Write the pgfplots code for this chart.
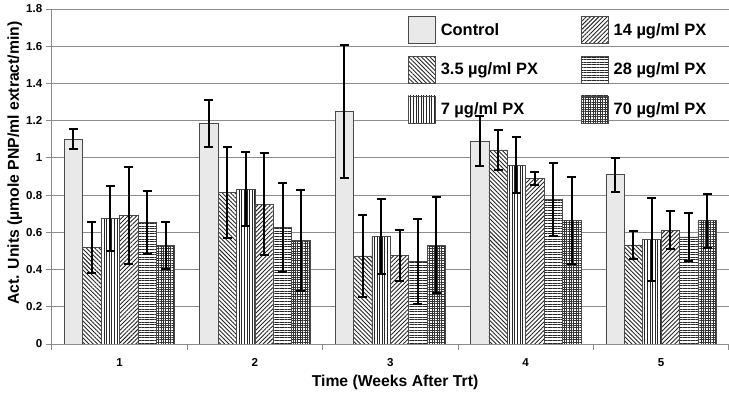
\documentclass[border=0pt]{standalone}
\usepackage{pgfplots}
\pgfplotsset{compat=1.18}
\usepackage{fontspec}
\setmainfont{Liberation Sans}
\usetikzlibrary{patterns.meta,calc,arrows.meta}
\definecolor{gridc}{HTML}{8C8C8C}
\definecolor{edgec}{HTML}{4A4A4A}
\pgfplotsset{eb/.style={error bars/.cd, y dir=both, y explicit, error mark=none,
  error bar style={line width=2bp, black, solid, -{Bar[width=9bp,line width=2bp]}}}}
\begin{document}
\begin{tikzpicture}
\begin{axis}[
  scale only axis,
  width=677bp, height=335bp,
  xmin=0.5, xmax=5.5, ymin=0, ymax=1.8,
  ybar=0pt, bar width=0.136,
  axis x line*=bottom, axis y line*=left,
  axis line style={gridc, line width=0.9bp},
  xtick={0.5,1.5,2.5,3.5,4.5,5.5},
  xticklabels={1,2,3,4,5},
  x tick label as interval,
  xticklabel style={yshift=-5bp},
  ytick={0,0.2,0.4,0.6,0.8,1,1.2,1.4,1.6,1.8},
  yticklabel style={/pgf/number format/.cd, fixed, precision=1},
  /pgf/number format/assume math mode=true,
  tick label style={font=\fontsize{11.6}{13}\selectfont\bfseries},
  tick align=outside, major tick length=6bp,
  tick style={gridc, line width=0.9bp},
  ymajorgrids, grid style={gridc, line width=0.9bp},
  xlabel={Time (Weeks After Trt)},
  ylabel={Act. Units (µmole PNP/ml extract/min)},
  label style={font=\fontsize{15.8}{18}\selectfont\bfseries},
  xlabel style={at={(axis description cs:0.507,-0.1155)}, anchor=center},
  ylabel style={at={(axis description cs:-0.0547,0.54)}, anchor=center},
  legend columns=3, transpose legend,
  legend cell align=left,
  legend image code/.code={\draw[#1] (0bp,-13.5bp) rectangle (27bp,13.5bp);},
  legend style={at={(axis description cs:0.526,0.979)}, anchor=north west,
    draw=none, fill=none, inner sep=0pt, row sep=12bp,
    font=\fontsize{16.5}{19}\selectfont\bfseries,
    nodes={inner sep=1bp},
    /tikz/every odd column/.style={column sep=4bp},
    /tikz/every even column/.style={column sep=42bp}},
  every axis plot/.append style={draw=edgec, line width=0.7bp},
]
\coordinate (LL) at (rel axis cs:0,0);
\coordinate (UR) at (rel axis cs:1,1);
% Control
\addplot[fill=gray!12, postaction={pattern={Dots[distance=2bp,radius=0.4bp]}, pattern color=gray!70}, eb]
  coordinates {(1,1.100) +- (0,0.060) (2,1.184) +- (0,0.130) (3,1.249) +- (0,0.365) (4,1.091) +- (0,0.140) (5,0.909) +- (0,0.095)};
% 3.5
\addplot[fill=white, postaction={pattern={Lines[angle=-45,distance=3bp,line width=0.9bp]}, pattern color=black!85}, eb]
  coordinates {(1,0.518) +- (0,0.144) (2,0.813) +- (0,0.250) (3,0.473) +- (0,0.225) (4,1.043) +- (0,0.113) (5,0.532) +- (0,0.082)};
% 7
\addplot[fill=white, postaction={pattern={Lines[angle=90,distance=2.6bp,line width=0.9bp]}, pattern color=black!85}, eb]
  coordinates {(1,0.674) +- (0,0.181) (2,0.832) +- (0,0.203) (3,0.579) +- (0,0.207) (4,0.961) +- (0,0.155) (5,0.563) +- (0,0.228)};
% 14
\addplot[fill=white, postaction={pattern={Lines[angle=45,distance=3bp,line width=0.9bp]}, pattern color=black!85}, eb]
  coordinates {(1,0.690) +- (0,0.265) (2,0.751) +- (0,0.278) (3,0.477) +- (0,0.143) (4,0.891) +- (0,0.040) (5,0.611) +- (0,0.108)};
% 28
\addplot[fill=white, postaction={pattern={Lines[angle=0,distance=2.6bp,line width=0.9bp]}, pattern color=black!85}, eb]
  coordinates {(1,0.652) +- (0,0.173) (2,0.627) +- (0,0.244) (3,0.443) +- (0,0.232) (4,0.776) +- (0,0.203) (5,0.575) +- (0,0.132)};
% 70
\addplot[fill=white, postaction={pattern={Hatch[distance=2.4bp,line width=0.6bp]}, pattern color=black!80}, eb]
  coordinates {(1,0.530) +- (0,0.130) (2,0.557) +- (0,0.277) (3,0.530) +- (0,0.263) (4,0.663) +- (0,0.240) (5,0.663) +- (0,0.151)};
\legend{Control, 3.5 µg/ml PX, 7 µg/ml PX, 14 µg/ml PX, 28 µg/ml PX, 70 µg/ml PX}
\end{axis}
\pgfresetboundingbox
\path ($(LL)+(-51.8bp,-51bp)$) rectangle ($(UR)+(0.2bp,9bp)$);
\end{tikzpicture}
\end{document}
